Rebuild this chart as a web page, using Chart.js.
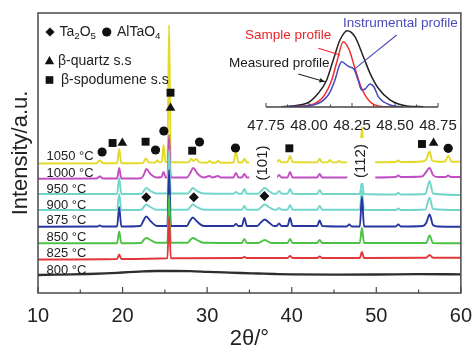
<!DOCTYPE html>
<html><head><meta charset="utf-8">
<script src="https://cdn.jsdelivr.net/npm/chart.js@4.4.0/dist/chart.umd.min.js"></script>
<style>
html,body{margin:0;padding:0;background:#fff;}
#wrap{position:relative;width:475px;height:351px;overflow:hidden;}
#main{position:absolute;left:0;top:0;}
#inset{position:absolute;left:220px;top:13px;}
</style></head><body>
<div id="wrap"><canvas id="main" width="475" height="351"></canvas><canvas id="inset" width="242" height="136"></canvas></div>
<script>
// ---------- DATA ----------
const temperatures = ['800 °C','825 °C','850 °C','875 °C','900 °C','950 °C','1000 °C','1050 °C'];
const xTickLabels = ['10','20','30','40','50','60'];
const insetTickLabels = ['47.75','48.00','48.25','48.50','48.75'];

// [2θ (°), intensity (a.u.)]
const xrd800 = [[10,18],[12,18.3],[14,18.6],[16,19],[18,19.6],[20,20.5],[22,21.4],[24,22],[26,22],[28,21.8],[30,21.2],[32,20.6],[34,20],[36,19.5],[38,19],[40,18.6],[45,18.4],[50,18.5],[55,18.8],[60,18.7]];
const xrd825 = [[10,33.5],[19.35,34],[19.6,38.5],[19.85,34],[25.3,34.7],[25.5,76],[25.7,34.7],[34.1,35],[34.4,36],[34.7,35],[39.5,35],[39.8,37],[40.1,35],[43.0,35],[43.3,36.5],[43.6,35],[48.05,35],[48.3,41],[48.55,35],[55.9,35.2],[56.3,38],[56.7,35.2],[60,35.3]];
const xrd850 = [[10,49.7],[19.35,49.8],[19.6,61.5],[19.85,49.8],[22.2,50],[22.5,53],[22.8,55],[23.3,53],[24.0,50.2],[25.3,50.2],[25.5,98],[25.7,50.2],[27.7,50.2],[28.0,53],[28.3,55],[28.8,53],[29.6,50.2],[34.1,50],[34.4,54],[34.7,50],[36.0,50],[36.8,53],[37.6,50],[39.5,50],[39.8,54],[40.1,50],[43.0,50],[43.3,53],[43.6,50],[48.05,50],[48.3,65],[48.55,50],[55.9,50],[56.3,57.5],[56.7,50],[60,49.7]];
const xrd875 = [[10,66.3],[17.0,66.5],[17.3,67.5],[17.6,66.5],[19.35,66.5],[19.6,86],[19.85,66.5],[22.1,67],[22.45,72],[22.8,76.5],[23.3,72],[24.1,67],[25.3,67],[25.5,123],[25.7,67],[27.6,67],[27.95,72],[28.3,75.5],[28.8,71.5],[29.6,67],[33.1,67],[33.4,69],[33.7,67],[34.1,67],[34.4,75],[34.7,67],[35.9,67],[36.4,71],[36.8,73.5],[37.3,70.5],[37.9,67],[38.2,67],[38.5,69.5],[38.8,67],[39.5,67],[39.8,75],[40.1,67],[43.0,67],[43.3,72.5],[43.6,67],[46.5,66.5],[46.8,68.5],[47.1,66.5],[48.05,66.5],[48.3,96],[48.55,66.5],[52.3,66.5],[52.6,68.5],[52.9,66.5],[55.5,67],[55.9,70],[56.3,78.5],[56.7,68],[57.3,66.5],[60,66.3]];
const xrd900 = [[10,83],[19.35,83],[19.6,99],[19.85,83],[22.2,83.3],[22.5,86],[22.8,88.5],[23.3,86],[24.0,83.3],[25.3,83.3],[25.5,128],[25.7,83.3],[27.7,83.3],[28.0,86],[28.3,88.5],[28.8,86],[29.6,83.3],[34.1,83.3],[34.4,87],[34.7,83.3],[36.0,83.3],[36.4,86],[36.8,88.5],[37.3,86],[37.9,83.3],[38.2,83.3],[38.5,85],[38.8,83.3],[39.5,83.3],[39.8,88],[40.1,83.3],[43.0,83.3],[43.3,87],[43.6,83.3],[48.05,83.3],[48.3,103],[48.55,83.3],[52.3,83],[52.6,84.5],[52.9,83],[55.8,83.5],[56.3,95.5],[56.7,84],[60,83]];
const xrd950 = [[10,99],[19.35,99],[19.6,115],[19.85,99],[22.2,99.3],[22.5,102],[22.8,105],[23.3,102],[24.0,99.5],[25.3,99.5],[25.5,143],[25.7,99.5],[27.7,99.5],[28.0,102],[28.3,105],[28.8,102],[29.6,99.5],[33.1,99.3],[33.4,101],[33.7,99.3],[34.1,99.3],[34.4,104],[34.7,99.3],[36.0,99.3],[36.4,102],[36.8,105],[37.3,102],[37.9,99.3],[38.2,99.3],[38.5,102],[38.8,99.3],[39.5,99.3],[39.8,104],[40.1,99.3],[43.0,99],[43.3,103],[43.6,99],[48.05,99],[48.3,111],[48.55,99],[52.3,98.5],[52.6,100],[52.9,98.5],[55.8,99],[56.3,112],[56.7,99.5],[60,98]];
const xrd1000 = [[10,114.3],[16.9,114.5],[17.3,116.5],[17.7,114.5],[19.35,114.5],[19.6,125],[19.85,114.5],[22.2,114.8],[22.55,119],[22.8,124],[23.3,119],[24.0,115.5],[24.6,116],[24.85,121],[25.1,115.5],[25.3,115.5],[25.5,158],[25.7,115.5],[27.6,115.5],[28.0,120],[28.35,125],[28.9,119],[29.6,115.5],[30.3,117],[30.6,115.5],[31.3,117],[31.6,115.5],[33.1,115.5],[33.4,120],[33.7,115.5],[34.1,115.5],[34.4,119],[34.7,115.5],[36.3,115.5],[36.8,119],[37.3,115.5],[38.2,115.5],[38.5,118],[38.8,115.5],[39.5,115.5],[39.8,121],[40.1,115.5],[43.0,115.5],[43.3,119],[43.6,115.5],[46.5,115.5],[46.8,117],[47.1,115.5],[48.05,115.5],[48.3,135],[48.55,115.5],[52.3,116],[52.6,117.5],[52.9,116],[55.4,116.5],[55.8,120],[56.3,125],[56.7,118],[57.2,116],[58.2,116],[58.5,117.5],[58.8,116],[60,116]];
const xrd1050 = [[10,129.5],[16.9,129.6],[17.3,132.5],[17.7,129.7],[19.35,129.8],[19.6,144],[19.85,129.8],[22.4,130],[22.75,134.5],[23.1,130.6],[23.8,130.4],[24.1,132.5],[24.4,130.6],[24.65,131.5],[24.85,148],[25.05,131],[25.3,131],[25.5,268],[25.7,131],[27.8,130.6],[28.1,134],[28.4,132],[28.7,134],[29.1,130.6],[30.0,130.3],[30.3,132],[30.6,130.3],[31.0,130.3],[31.3,132],[31.6,130.3],[33.1,130.5],[33.4,141],[33.7,130.5],[34.1,130.5],[34.4,134],[34.7,130.5],[36.3,130.6],[36.8,133],[37.3,130.6],[38.2,130.6],[38.5,133],[38.8,130.6],[39.5,131],[39.8,137],[40.1,131],[43.0,130.6],[43.3,134],[43.6,130.6],[44.2,130.6],[44.5,133],[44.8,130.6],[45.3,130.6],[45.6,132],[45.9,130.6],[48.05,130.8],[48.3,166],[48.55,130.8],[52.3,131],[52.6,132.5],[52.9,131],[55.4,131.5],[55.9,133.5],[56.3,141.5],[56.6,132.5],[57.1,131.5],[58.1,131.3],[58.5,137],[58.9,131.3],[60,131.5]];

// phase markers [2θ, intensity]
const ta2o5Peaks = [[22.8,95.7],[28.42,95.7],[36.77,97]];
const altao4Peaks = [[17.58,141],[23.9,143],[24.88,162],[29.1,151],[33.35,145],[58.5,144.7]];
const quartzPeaks = [[19.97,150],[25.67,185],[56.77,150]];
const spodumenePeaks = [[18.82,150],[22.72,151.3],[25.67,200.3],[28.23,142.3],[39.72,144.7],[55.4,149]];

// inset profiles [2θ, relative intensity]
const measuredProfile = [[47.841,0.4],[47.987,4.6],[48.054,17.1],[48.103,33.8],[48.141,58.8],[48.18,83.8],[48.223,95.4],[48.267,87.9],[48.316,62.9],[48.355,42.1],[48.403,23.4],[48.471,8.8],[48.568,1.3],[48.664,0.4]];
const sampleProfile = [[47.85,0],[48.006,2.5],[48.083,12.9],[48.132,33.8],[48.165,58.8],[48.199,81.6],[48.234,71.3],[48.267,48.4],[48.306,23.4],[48.355,6.6],[48.432,0.4],[48.548,0]];
const instrumentalProfile = [[47.841,0],[48.025,2.5],[48.112,15],[48.151,33.8],[48.174,50.4],[48.19,56.6],[48.227,51],[48.262,47],[48.285,33.8],[48.306,21.3],[48.326,22.5],[48.355,28.8],[48.378,25],[48.403,12.9],[48.471,2.5],[48.547,0]];

// ---------- STYLE / LAYOUT ----------
const FONT = '"Liberation Sans", Arial, Helvetica, sans-serif';
const seriesList = [xrd800, xrd825, xrd850, xrd875, xrd900, xrd950, xrd1000, xrd1050];
const seriesColors = ['#2e2e2e','#e2373d','#4cc245','#27379e','#72d5ca','#72d5ca','#c24ec3','#e2da26'];
const tempLabelY = [274,257.3,241,224.3,209.3,193.3,177.3,160];
const toXY = a => a.map(p => ({x:p[0], y:p[1]}));

const markerSets = [
  {data: ta2o5Peaks, style:'rectRot', r:5},
  {data: altao4Peaks, style:'circle', r:4.6},
  {data: quartzPeaks, style:'triangle', r:5.6},
  {data: spodumenePeaks, style:'rect', r:5.6}
];

const datasets = markerSets.map(m => ({
  type:'scatter', data: toXY(m.data), pointStyle: m.style, pointRadius: m.r,
  backgroundColor:'#111', borderColor:'#111', borderWidth:0, showLine:false
})).concat(seriesList.map((s,i) => ({
  type:'line', label: temperatures[i], data: toXY(s), borderColor: seriesColors[i],
  borderWidth: i===0 ? 2.3 : 1.9, pointRadius:0, cubicInterpolationMode:'monotone', fill:false
})));

const hklLabels = [{text:'(101)', at:36.62, y:130}, {text:'(112)', at:48.22, y:132}];

function drawSubText(ctx, parts, x, y, size){
  let cx = x;
  parts.forEach(([t, sub]) => {
    ctx.font = (sub ? size*0.7 : size) + 'px ' + FONT;
    ctx.fillText(t, cx, sub ? y + size*0.3 : y);
    cx += ctx.measureText(t).width;
  });
}

const mainDecor = {
  id:'mainDecor',
  afterDatasetsDraw(chart){
    const {ctx, scales:{x, y}} = chart;
    ctx.save();
    hklLabels.forEach(h => {
      const cx = x.getPixelForValue(h.at);
      const cy = y.getPixelForValue(h.y);
      ctx.fillStyle = '#fff';
      ctx.fillRect(cx - 14, cy - 23, 28, 45);
      ctx.save();
      ctx.translate(cx, cy);
      ctx.rotate(-Math.PI/2);
      ctx.fillStyle = '#222';
      ctx.font = '15px ' + FONT;
      ctx.textAlign = 'center';
      ctx.textBaseline = 'middle';
      ctx.fillText(h.text, 0, 0);
      ctx.restore();
    });
    ctx.restore();
  },
  afterDraw(chart){
    const {ctx, chartArea:a, scales:{x}} = chart;
    ctx.save();
    ctx.strokeStyle = '#4a4a4a';
    ctx.lineWidth = 1.5;
    ctx.strokeRect(a.left, a.top, a.right - a.left, a.bottom - a.top);
    ctx.lineWidth = 1.2;
    x.ticks.forEach(t => {
      const px = x.getPixelForValue(t.value);
      const len = (Math.round(t.value) % 10 === 0) ? 6 : 3.5;
      ctx.beginPath(); ctx.moveTo(px, a.bottom); ctx.lineTo(px, a.bottom - len); ctx.stroke();
    });
    ctx.fillStyle = '#222';
    ctx.font = '13px ' + FONT;
    ctx.textBaseline = 'alphabetic';
    ctx.textAlign = 'left';
    temperatures.forEach((t, i) => ctx.fillText(t, 46.5, tempLabelY[i]));
    const P = Chart.helpers.drawPoint;
    ctx.fillStyle = '#111';
    ctx.strokeStyle = '#111';
    P(ctx, {pointStyle:'rectRot', radius:4.6, rotation:0, borderWidth:0}, 50, 32);
    P(ctx, {pointStyle:'circle', radius:4.6, rotation:0, borderWidth:0}, 106.7, 32);
    P(ctx, {pointStyle:'triangle', radius:5.4, rotation:0, borderWidth:0}, 49.5, 61.5);
    P(ctx, {pointStyle:'rect', radius:5.4, rotation:0, borderWidth:0}, 49.5, 80);
    ctx.fillStyle = '#222';
    ctx.textBaseline = 'middle';
    drawSubText(ctx, [['Ta',0],['2',1],['O',0],['5',1]], 59.5, 32, 14);
    drawSubText(ctx, [['AlTaO',0],['4',1]], 117, 32, 14);
    ctx.font = '14px ' + FONT;
    ctx.fillText('β-quartz s.s', 58, 61.5);
    ctx.fillText('β-spodumene s.s', 61, 80);
    ctx.restore();
  }
};

new Chart(document.getElementById('main'), {
  type:'line',
  data:{datasets},
  options:{
    responsive:false, animation:false, events:[],
    layout:{padding:{top:13, right:13.3, left:0, bottom:0}},
    plugins:{legend:{display:false}, tooltip:{enabled:false}},
    scales:{
      x:{type:'linear', min:10, max:60,
        grid:{display:false}, border:{display:false},
        ticks:{stepSize:5, autoSkip:false, maxRotation:0, padding:3, color:'#222',
          font:{family:FONT, size:20},
          callback:v => { const i = xTickLabels.indexOf(String(v)); return i >= 0 ? xTickLabels[i] : ''; }},
        title:{display:true, text:'2θ/°', color:'#222', font:{family:FONT, size:22, lineHeight:1}, padding:{top:0, bottom:1}},
        afterFit(s){ s.height = 58; }
      },
      y:{type:'linear', min:0, max:280,
        grid:{display:false}, border:{display:false}, ticks:{display:false},
        title:{display:true, text:'Intensity/a.u.', color:'#222', font:{family:FONT, size:22}, padding:{top:8, bottom:0}},
        afterFit(s){ s.width = 38; }
      }
    }
  },
  plugins:[mainDecor]
});

// ---------- INSET ----------
const insetDecor = {
  id:'insetDecor',
  afterDraw(chart){
    const {ctx, chartArea:a, scales:{x, y}} = chart;
    ctx.save();
    ctx.strokeStyle = '#444';
    ctx.lineWidth = 1.3;
    ctx.beginPath(); ctx.moveTo(a.left, a.bottom); ctx.lineTo(a.right, a.bottom); ctx.stroke();
    ctx.lineWidth = 1;
    x.ticks.forEach(t => {
      const px = x.getPixelForValue(t.value);
      const major = Math.abs(t.value*4 - Math.round(t.value*4)) < 1e-6;
      ctx.beginPath(); ctx.moveTo(px, a.bottom); ctx.lineTo(px, a.bottom - (major ? 4 : 2.5)); ctx.stroke();
    });
    const line = (x1,y1,x2,y2,col,head) => {
      const X1 = x.getPixelForValue(x1), Y1 = y.getPixelForValue(y1);
      const X2 = x.getPixelForValue(x2), Y2 = y.getPixelForValue(y2);
      ctx.strokeStyle = col; ctx.fillStyle = col; ctx.lineWidth = 1.1;
      ctx.beginPath(); ctx.moveTo(X1,Y1); ctx.lineTo(X2,Y2); ctx.stroke();
      if (head){
        const ang = Math.atan2(Y2-Y1, X2-X1), L = 6;
        ctx.beginPath(); ctx.moveTo(X2,Y2);
        ctx.lineTo(X2 - L*Math.cos(ang-0.4), Y2 - L*Math.sin(ang-0.4));
        ctx.lineTo(X2 - L*Math.cos(ang+0.4), Y2 - L*Math.sin(ang+0.4));
        ctx.closePath(); ctx.fill();
      }
    };
    line(47.938,41.25,48.093,31.6,'#222',true);
    line(48.054,73.4,48.18,65,'#e8262a',false);
    line(48.51,90,48.262,47.1,'#4a4ab8',false);
    ctx.font = '13.5px ' + FONT;
    ctx.textBaseline = 'middle';
    ctx.textAlign = 'left';
    ctx.fillStyle = '#4a4ab8'; ctx.fillText('Instrumental profile', 123, 10.5);
    ctx.fillStyle = '#e8262a'; ctx.fillText('Sample profile', 25, 22);
    ctx.fillStyle = '#1a1a1a'; ctx.fillText('Measured profile', 9, 50.5);
    ctx.restore();
  }
};

new Chart(document.getElementById('inset'), {
  type:'line',
  data:{datasets:[
    {data:toXY(instrumentalProfile), borderColor:'#4848c0', borderWidth:1.5, pointRadius:0, cubicInterpolationMode:'monotone'},
    {data:toXY(sampleProfile), borderColor:'#ee3030', borderWidth:1.5, pointRadius:0, cubicInterpolationMode:'monotone'},
    {data:toXY(measuredProfile), borderColor:'#222', borderWidth:1.5, pointRadius:0, cubicInterpolationMode:'monotone'}
  ]},
  options:{
    responsive:false, animation:false, events:[],
    layout:{padding:{left:46, right:24, top:14, bottom:0}},
    plugins:{legend:{display:false}, tooltip:{enabled:false}},
    scales:{
      x:{type:'linear', min:47.75, max:48.75,
        grid:{display:false}, border:{display:false},
        ticks:{stepSize:0.125, autoSkip:false, maxRotation:0, padding:2, color:'#222',
          font:{family:FONT, size:15},
          callback:v => { const s = (Math.round(v*8)/8).toFixed(2); return insetTickLabels.includes(s) ? s : ''; }},
        afterFit(s){ s.height = 42; }
      },
      y:{display:false, min:0, max:100}
    }
  },
  plugins:[insetDecor]
});
</script>
</body></html>
